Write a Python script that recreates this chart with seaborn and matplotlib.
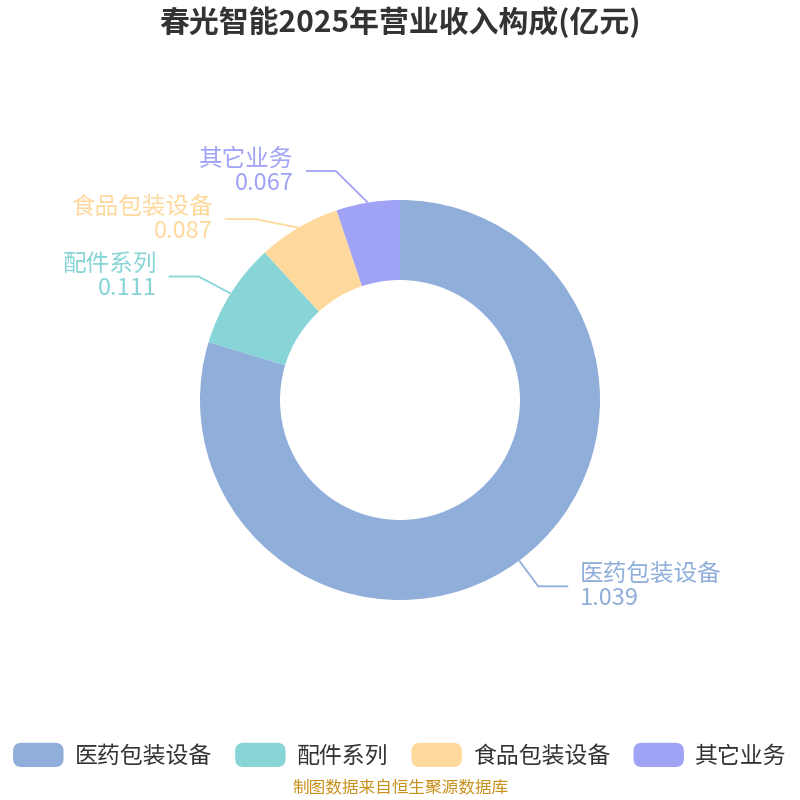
import numpy as np
import matplotlib.pyplot as plt
import seaborn as sns
from matplotlib.patches import FancyBboxPatch
from matplotlib.legend_handler import HandlerPatch
from matplotlib.patches import Patch

# data
categories = ["医药包装设备", "配件系列", "食品包装设备", "其它业务"]
values = [1.039, 0.111, 0.087, 0.067]
value_labels = ["1.039", "0.111", "0.087", "0.067"]
colors = ["#8FAEDA", "#88D5D8", "#FFD99C", "#A0A3F5"]
title = "春光智能2025年营业收入构成(亿元)"
source = "制图数据来自恒生聚源数据库"

sns.set_theme(style="white")
plt.rcParams['font.family'] = ['Noto Sans CJK SC', 'DejaVu Sans']

fig = plt.figure(figsize=(8, 8), dpi=100)
ax = fig.add_axes([0, 0, 1, 1])

wedges, _ = ax.pie(values, colors=colors, startangle=90, counterclock=False,
                   radius=1, wedgeprops=dict(width=0.4, linewidth=0))
ax.set_xlim(-2, 2)
ax.set_ylim(-2, 2)
ax.set_aspect("equal")
ax.axis("off")

# label layout: radial first segment, then horizontal segment
R1 = 1.16
seg = 0.15
items = []
for w, name, val, c in zip(wedges, categories, value_labels, colors):
    mid = np.deg2rad((w.theta1 + w.theta2) / 2)
    px, py = np.cos(mid), np.sin(mid)
    ey = R1 * py
    side = 1 if px >= 0 else -1
    items.append(dict(px=px, py=py, ey=ey, side=side, name=name, val=val, c=c))

# push labels on each side apart
min_gap = 0.24
for side in (1, -1):
    grp = sorted([it for it in items if it["side"] == side], key=lambda d: -d["ey"])
    for a, b in zip(grp, grp[1:]):
        if a["ey"] - b["ey"] < min_gap:
            b["ey"] = a["ey"] - min_gap

for it in items:
    dy = min(abs(it["ey"]), R1)
    ex = it["side"] * np.sqrt(R1 ** 2 - dy ** 2)
    if it["side"] < 0:
        ex = min(ex, it["px"] - 0.16)
    hx = ex + it["side"] * seg
    ax.plot([it["px"], ex, hx], [it["py"], it["ey"], it["ey"]],
            color=it["c"], lw=1.3, solid_capstyle="butt")
    tx = hx + it["side"] * 0.06
    ha = "left" if it["side"] > 0 else "right"
    ax.text(tx, it["ey"] + 0.06, it["name"], color=it["c"], fontsize=17,
            ha=ha, va="center")
    ax.text(tx, it["ey"] - 0.06, it["val"], color=it["c"], fontsize=17,
            ha=ha, va="center")

fig.text(0.5, 0.972, title, ha="center", va="center", fontsize=21.5,
         fontweight="bold", color="#333333")
fig.text(0.5, 0.014, source, ha="center", va="center", fontsize=12,
         color="#C8901A")


class RoundHandler(HandlerPatch):
    def create_artists(self, legend, orig_handle, xdescent, ydescent,
                       width, height, fontsize, trans):
        p = FancyBboxPatch((-xdescent, -ydescent), width, height,
                           boxstyle="round,pad=0,rounding_size=6",
                           facecolor=orig_handle.get_facecolor(),
                           edgecolor="none", transform=trans)
        return [p]


handles = [Patch(facecolor=c) for c in colors]
fig.legend(handles, categories, loc="center", bbox_to_anchor=(0.5, 0.056),
           ncol=4, frameon=False, fontsize=16.5, handlelength=2.2,
           handleheight=1.25, handletextpad=0.5, columnspacing=1.0,
           labelcolor="#333333",
           handler_map={Patch: RoundHandler()})

fig.savefig("out.png", dpi=100)
